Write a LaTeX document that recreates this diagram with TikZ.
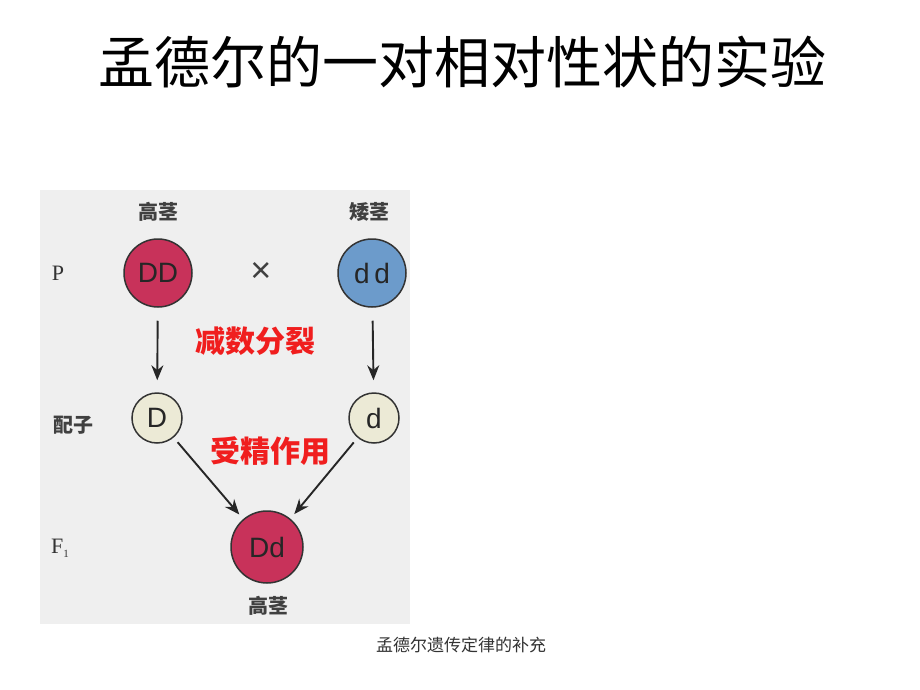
\documentclass[tikz,border=0pt]{standalone}
\usepackage{fontspec}
\setmainfont{Liberation Serif}
\newfontfamily\cjk{Noto Sans CJK SC}
\newfontfamily\lsans{Liberation Sans}
\usetikzlibrary{arrows.meta}
\definecolor{panel}{HTML}{EFEFEF}
\definecolor{redc}{HTML}{C8325A}
\definecolor{bluec}{HTML}{6C9BCB}
\definecolor{beige}{HTML}{ECEAD6}
\definecolor{labred}{HTML}{F01E1E}
\tikzset{
  gene/.style={circle, draw=black!80, line width=1.5pt, inner sep=0pt, font=\lsans\fontsize{28}{28}\selectfont, text=black!85},
  bigc/.style={gene, minimum size=68pt},
  smallc/.style={gene, fill=beige, minimum size=50pt},
  lab/.style={font=\cjk\bfseries\fontsize{20}{20}\selectfont, text=black!75},
  redlab/.style={font=\cjk\bfseries\fontsize{30}{30}\selectfont, text=labred},
  rowlab/.style={font=\fontsize{22}{22}\selectfont, text=black!80},
  arr/.style={-{Stealth[length=15pt,width=12pt]}, line width=1.9pt, black!85},
}
\begin{document}
\begin{tikzpicture}[x=1pt,y=-1pt]
\useasboundingbox (0,0) rectangle (920,690);
\fill[white] (0,0) rectangle (920,690);
\node[font=\cjk\fontsize{56}{56}\selectfont] (title) at (462,62) {孟德尔的一对相对性状的实验};
\fill[panel] (40,190) rectangle (410,624);
\node[lab] (tall1) at (158,212) {高茎};
\node[lab] (short1) at (369,212) {矮茎};
\node[rowlab] (P) at (58,273) {P};
\node[bigc, fill=redc] (DD) at (158,273) {DD};
\node[font=\lsans\fontsize{36}{36}\selectfont, text=black!75] (x) at (261,272) {×};
\node[bigc, fill=bluec] (dd) at (372,273) {d\,d};
\node[redlab] (jian) at (255,341) {减数分裂};
\node[font=\cjk\bfseries\fontsize{20}{20}\selectfont, text=black!75] (pz) at (73,425) {配子};
\node[smallc] (D) at (157,418) {D};
\node[smallc] (d) at (374,418) {d};
\node[redlab] (shou) at (270,451) {受精作用};
\node[rowlab] (F1) at (60,548) {F\raisebox{-4pt}{\fontsize{11}{11}\selectfont 1}};
\node[bigc, fill=redc, minimum size=72pt] (Dd) at (267,547) {Dd};
\node[lab] (tall2) at (268,606) {高茎};
\node[font=\cjk\fontsize{17}{17}\selectfont, text=black!80] (foot) at (461,645) {孟德尔遗传定律的补充};
\draw[arr, shorten <=13pt, shorten >=12pt] (DD) -- (D);
\draw[arr, shorten <=13pt, shorten >=12pt] (dd) -- (d);
\draw[arr, shorten <=6pt, shorten >=6pt] (D) -- (Dd);
\draw[arr, shorten <=6pt, shorten >=6pt] (d) -- (Dd);
\end{tikzpicture}
\end{document}
